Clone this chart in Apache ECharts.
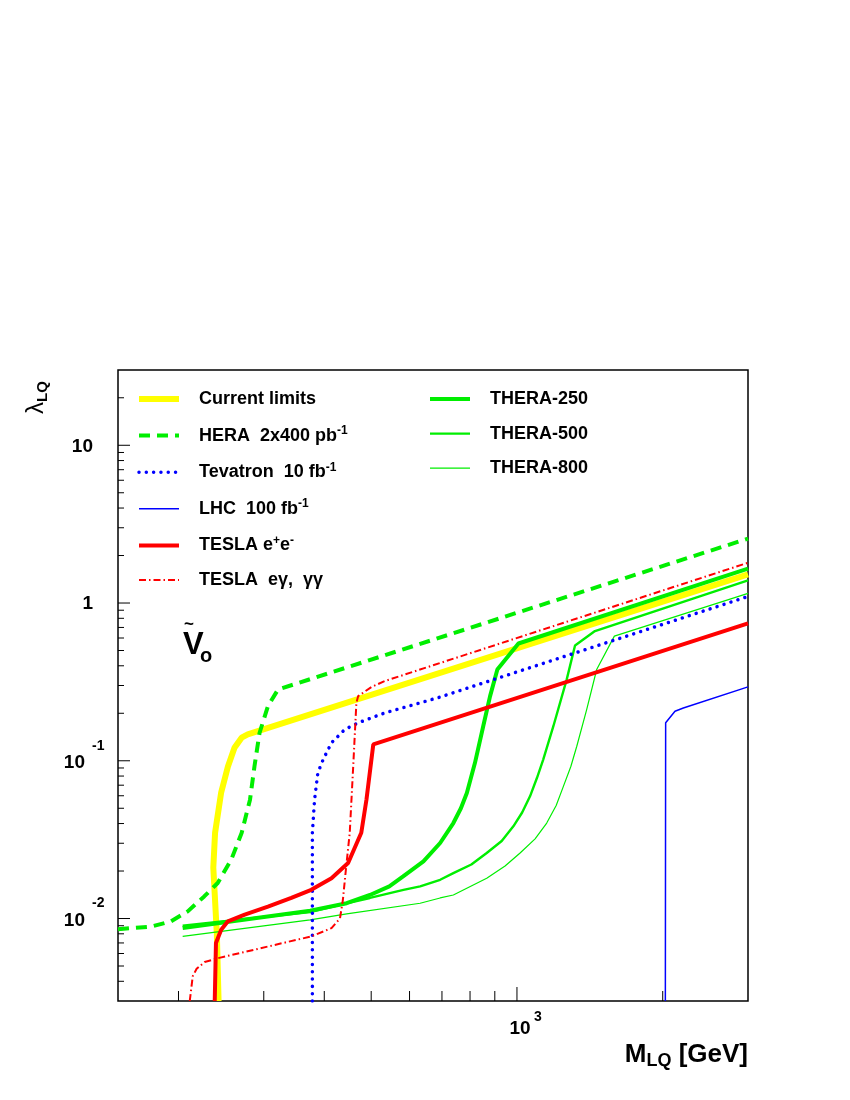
<!DOCTYPE html>
<html>
<head>
<meta charset="utf-8">
<script src="https://cdn.jsdelivr.net/npm/echarts@6/dist/echarts.min.js"></script>
<style>
html, body { margin: 0; padding: 0; background: #fff; }
#chart { width: 850px; height: 1100px; }
</style>
</head>
<body>
<div id="chart"></div>
<script>
// axis ranges (log-log)
const xMin = 150, xMax = 3000;
const yMin = 0.003, yMax = 30;

// ticks
const xMinorTicks = [200, 300, 400, 500, 600, 700, 800, 900, 2000];
const xMajorTicks = [1000];
const yMajorTicks = [0.01, 0.1, 1, 10];
const yMinorTicks = [0.004, 0.005, 0.006, 0.007, 0.008, 0.009,
  0.02, 0.03, 0.04, 0.05, 0.06, 0.07, 0.08, 0.09,
  0.2, 0.3, 0.4, 0.5, 0.6, 0.7, 0.8, 0.9,
  2, 3, 4, 5, 6, 7, 8, 9, 20];

// curves, [M_LQ (GeV), lambda_LQ]
const currentLimits = [[242, 0.003], [240, 0.008], [238, 0.013], [236, 0.021], [238, 0.035],
  [245, 0.063], [253, 0.092], [261, 0.121], [270, 0.140], [278, 0.147], [3000, 1.52]];
const hera = [[150, 0.00855], [176, 0.0089], [193, 0.0096], [209, 0.0111], [226, 0.0138],
  [241, 0.0168], [257, 0.0236], [270, 0.0348], [281, 0.0567], [287, 0.092], [294, 0.150],
  [306, 0.222], [321, 0.283], [3000, 2.56]];
const tevatron = [[378, 0.003], [378, 0.035], [382, 0.057], [388, 0.084], [398, 0.102],
  [414, 0.130], [441, 0.158], [470, 0.174], [533, 0.201], [687, 0.251], [3000, 1.10]];
const lhc = [[2025, 0.003], [2028, 0.174], [2120, 0.206], [2206, 0.216], [3000, 0.294]];
const teslaEE = [[237.6, 0.003], [239, 0.007], [245, 0.0085], [253, 0.0096], [274, 0.0106],
  [306, 0.0119], [342, 0.0135], [376, 0.0152], [414, 0.018], [448, 0.0225], [477, 0.035],
  [489, 0.057], [505, 0.127], [3000, 0.743]];
const teslaEG = [[211, 0.003], [214, 0.0043], [218, 0.0048], [226.5, 0.0053], [241, 0.0056],
  [376, 0.0077], [414, 0.0087], [431, 0.0100], [437, 0.0131], [444, 0.0214], [451.5, 0.0348],
  [459, 0.092], [466, 0.233], [470, 0.257], [501, 0.294], [533, 0.320], [3000, 1.80]];
const thera250 = [[204, 0.0087], [374, 0.0112], [445, 0.0125], [497, 0.0141], [545, 0.0160],
  [582, 0.0185], [641, 0.023], [694, 0.0301], [739, 0.0403], [766, 0.050], [788, 0.0625],
  [819, 0.097], [852, 0.166], [880, 0.257], [911, 0.379], [1007, 0.554], [3000, 1.65]];
const thera500 = [[204, 0.0090], [374, 0.0110], [445, 0.0125], [497, 0.0135], [583, 0.0152],
  [631, 0.0160], [694, 0.0176], [739, 0.0194], [805, 0.022], [866, 0.026], [930, 0.031],
  [983, 0.0384], [1025, 0.047], [1064, 0.0595], [1100, 0.078], [1133, 0.1017], [1189, 0.1656],
  [1267, 0.328], [1318, 0.538], [1449, 0.664], [3000, 1.39]];
const thera800 = [[204, 0.0077], [374, 0.0098], [445, 0.0107], [631, 0.0125], [694, 0.0135],
  [739, 0.0141], [866, 0.018], [945, 0.0215], [1015, 0.026], [1090, 0.032], [1152, 0.0403],
  [1205, 0.052], [1247, 0.0688], [1292, 0.092], [1329, 0.1236], [1393, 0.211], [1461, 0.379],
  [1589, 0.617], [3000, 1.15]];

const leftNames = ['Current limits', 'HERA', 'Tevatron', 'LHC', 'TESLA ee', 'TESLA eg'];
const rightNames = ['THERA-250', 'THERA-500', 'THERA-800'];
const legendLabels = {
  'Current limits': '{t|Current limits}',
  'HERA': '{t|HERA  2x400 pb}{s|-1}',
  'Tevatron': '{t|Tevatron  10 fb}{s|-1}',
  'LHC': '{t|LHC  100 fb}{s|-1}',
  'TESLA ee': '{t|TESLA e}{s|+}{t|e}{s|-}',
  'TESLA eg': '{t|TESLA  eγ,  γγ}',
  'THERA-250': '{t|THERA-250}',
  'THERA-500': '{t|THERA-500}',
  'THERA-800': '{t|THERA-800}'
};

const GREEN = '#00ee00';
const FONT = 'Liberation Sans, Arial, Helvetica, sans-serif';

const lineSeries = (name, data, color, width, type, cap) => ({
  name: name,
  type: 'line',
  data: data,
  symbol: 'none',
  smooth: false,
  lineStyle: { color: color, width: width, type: type || 'solid', cap: cap || 'butt' },
  itemStyle: { color: color },
  z: 3
});

const tickSeries = (name, values, isX, len) => ({
  name: name,
  type: 'custom',
  silent: true,
  clip: false,
  z: 6,
  data: values.map(v => isX ? [v, yMin] : [xMin, v]),
  renderItem: (params, api) => {
    const p = api.coord([api.value(0), api.value(1)]);
    return {
      type: 'line',
      shape: isX ? { x1: p[0], y1: p[1], x2: p[0], y2: p[1] - len }
                 : { x1: p[0], y1: p[1], x2: p[0] + len, y2: p[1] },
      style: { stroke: '#000', lineWidth: 1 }
    };
  }
});

const labelSeries = (name, values, isX) => ({
  name: name,
  type: 'custom',
  silent: true,
  clip: false,
  z: 6,
  data: values.map(v => isX ? [v, yMin] : [xMin, v]),
  renderItem: (params, api) => {
    const v = isX ? api.value(0) : api.value(1);
    const p = api.coord([api.value(0), api.value(1)]);
    const e = Math.round(Math.log10(v));
    const font = 'bold 19px ' + FONT;
    const sfont = 'bold 14px ' + FONT;
    const children = [];
    if (isX) {
      children.push({ type: 'text', style: { text: '10', x: p[0] + 3, y: p[1] + 28, font: font, align: 'center', verticalAlign: 'middle', fill: '#000' } });
      children.push({ type: 'text', style: { text: String(e), x: p[0] + 17, y: p[1] + 16, font: sfont, align: 'left', verticalAlign: 'middle', fill: '#000' } });
    } else if (e === 0 || e === 1) {
      children.push({ type: 'text', style: { text: e === 0 ? '1' : '10', x: p[0] - 25, y: p[1] + 1, font: font, align: 'right', verticalAlign: 'middle', fill: '#000' } });
    } else {
      children.push({ type: 'text', style: { text: '10', x: p[0] - 33, y: p[1] + 2, font: font, align: 'right', verticalAlign: 'middle', fill: '#000' } });
      children.push({ type: 'text', style: { text: String(e), x: p[0] - 26, y: p[1] - 15, font: sfont, align: 'left', verticalAlign: 'middle', fill: '#000' } });
    }
    return { type: 'group', children: children };
  }
});

const legendBase = {
  orient: 'vertical',
  top: 390,
  padding: 0,
  itemWidth: 40,
  itemHeight: 14,
  itemGap: 16.6,
  selectedMode: false,
  itemStyle: { opacity: 0 },
  lineStyle: { width: 'inherit', type: 'inherit', cap: 'inherit' },
  formatter: name => legendLabels[name],
  textStyle: {
    padding: [0, 0, 0, 15],
    rich: {
      t: { fontSize: 18, fontWeight: 'bold', fontFamily: FONT, color: '#000', lineHeight: 22 },
      s: { fontSize: 12, fontWeight: 'bold', fontFamily: FONT, color: '#000', lineHeight: 12, verticalAlign: 'top' }
    }
  }
};

const chart = echarts.init(document.getElementById('chart'), null, { renderer: 'canvas' });
chart.setOption({
  animation: false,
  backgroundColor: '#fff',
  grid: { left: 118, top: 370, width: 630, height: 631, show: true, borderColor: '#000', borderWidth: 1.5, backgroundColor: 'transparent' },
  xAxis: {
    type: 'log', logBase: 10, min: xMin, max: xMax,
    axisLine: { show: false }, axisTick: { show: false }, axisLabel: { show: false },
    splitLine: { show: false }, minorTick: { show: false }
  },
  yAxis: {
    type: 'log', logBase: 10, min: yMin, max: yMax,
    axisLine: { show: false }, axisTick: { show: false }, axisLabel: { show: false },
    splitLine: { show: false }, minorTick: { show: false }
  },
  legend: [
    Object.assign({}, legendBase, { data: leftNames, left: 136 }),
    Object.assign({}, legendBase, { data: rightNames, left: 428 })
  ],
  series: [
    lineSeries('Current limits', currentLimits, '#ffff00', 6),
    lineSeries('THERA-800', thera800, GREEN, 1.2),
    lineSeries('THERA-500', thera500, GREEN, 2.4),
    lineSeries('THERA-250', thera250, GREEN, 4),
    lineSeries('HERA', hera, GREEN, 4, [11, 7]),
    lineSeries('Tevatron', tevatron, '#0000ff', 3.5, [0.01, 7.3], 'round'),
    lineSeries('LHC', lhc, '#0000ff', 1.5),
    lineSeries('TESLA ee', teslaEE, '#ff0000', 4),
    lineSeries('TESLA eg', teslaEG, '#ff0000', 2, [7, 3, 1.5, 3]),
    tickSeries('xminor', xMinorTicks, true, 10),
    tickSeries('xmajor', xMajorTicks, true, 14),
    tickSeries('yminor', yMinorTicks, false, 6),
    tickSeries('ymajor', yMajorTicks, false, 12),
    labelSeries('xlabels', xMajorTicks, true),
    labelSeries('ylabels', yMajorTicks, false)
  ],
  graphic: [
    {
      type: 'text', x: 748, y: 1055,
      style: {
        text: '{m|M}{s|LQ}{m| [GeV]}', align: 'right', verticalAlign: 'middle',
        rich: {
          m: { fontSize: 26, fontWeight: 'bold', fontFamily: FONT, lineHeight: 30, fill: '#000' },
          s: { fontSize: 18, fontWeight: 'bold', fontFamily: FONT, lineHeight: 10, verticalAlign: 'bottom', fill: '#000' }
        }
      }
    },
    {
      type: 'text', x: 36, y: 414, rotation: Math.PI / 2,
      style: {
        text: '{l|λ}{s|LQ}', align: 'left', verticalAlign: 'middle',
        rich: {
          l: { fontSize: 24, fontFamily: FONT, lineHeight: 28, fill: '#000' },
          s: { fontSize: 15, fontWeight: 'bold', fontFamily: FONT, lineHeight: 10, verticalAlign: 'bottom', fill: '#000' }
        }
      }
    },
    { type: 'text', x: 183, y: 630, style: { text: 'V', font: 'bold 31px ' + FONT, fill: '#000', align: 'left', verticalAlign: 'top' } },
    { type: 'text', x: 184, y: 616, style: { text: '~', font: 'bold 17px ' + FONT, fill: '#000', align: 'left', verticalAlign: 'top' } },
    { type: 'text', x: 200, y: 646, style: { text: 'o', font: 'bold 20px ' + FONT, fill: '#000', align: 'left', verticalAlign: 'top' } }
  ]
});
</script>
</body>
</html>
